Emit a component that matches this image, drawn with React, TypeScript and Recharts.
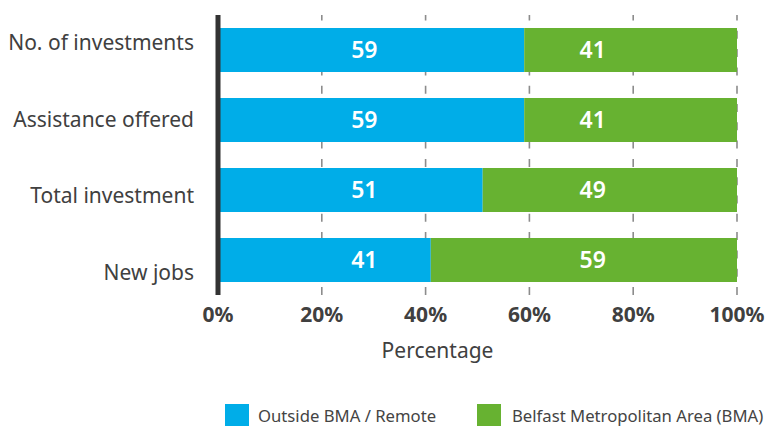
import React from 'react';
import { BarChart, Bar, XAxis, YAxis, CartesianGrid, LabelList } from 'recharts';

const categories = ['No. of investments', 'Assistance offered', 'Total investment', 'New jobs'];
const outsideBMA = [59, 59, 51, 41];
const belfastBMA = [41, 41, 49, 59];
const xTicks = [0, 20, 40, 60, 80, 100];
const seriesNames = ['Outside BMA / Remote', 'Belfast Metropolitan Area (BMA)'];
const seriesColors = ['#00ADE8', '#67B231'];
// data label anchor positions (percent of axis) as seen in the reference
const labelAnchors = [28.2, 72.2];

const data = categories.map((name, i) => ({ name, outside: outsideBMA[i], belfast: belfastBMA[i] }));

const FONT = '"Noto Sans", sans-serif';
const TEXT = '#404040';

const makeValueLabel = (series: number) => (props: any) => {
  const { x, y, width, height, value, index } = props;
  const unit = width / value;
  const zero = series === 0 ? x : x - outsideBMA[index] * unit;
  const cx = zero + labelAnchors[series] * unit;
  return (
    <text
      x={cx}
      y={y + height / 2}
      dy="0.36em"
      textAnchor="middle"
      fill="#ffffff"
      fontFamily={FONT}
      fontSize={23}
      fontWeight={600}
    >
      {value}
    </text>
  );
};

const gridLine = (props: any) => (
  <line
    key={`g-${props.x1}-${props.index}`}
    x1={props.x1}
    y1={props.y1}
    x2={props.x2}
    y2={props.y2}
    stroke="#8c8c8c"
    strokeWidth={1.6}
    strokeDasharray="8 10.3"
    strokeDashoffset={2.5}
  />
);

const pctLabel = (props: any) => {
  const vb = props.viewBox || { x: 218, y: 295, width: 519, height: 131 };
  return (
    <text
      x={vb.x + vb.width * 0.423}
      y={vb.y + 63}
      textAnchor="middle"
      fill={TEXT}
      fontFamily={FONT}
      fontSize={21}
    >
      Percentage
    </text>
  );
};

const legendLefts = [225, 477];
const legendTextGaps = [9, 11];

export default function App() {
  return (
    <div style={{ position: 'absolute', left: 0, top: 0, width: 769, height: 426, background: '#fff', overflow: 'hidden' }}>
      <BarChart
        width={769}
        height={426}
        data={data}
        layout="vertical"
        margin={{ top: 15, right: 32, bottom: 0, left: 0 }}
      >
        <CartesianGrid horizontal={false} vertical={gridLine} yAxisId="bars" />
        <XAxis
          type="number"
          domain={[0, 100]}
          ticks={xTicks}
          tickFormatter={(v: number) => `${v}%`}
          axisLine={false}
          tickLine={false}
          tickSize={0}
          tickMargin={12}
          height={131}
          interval={0}
          tick={{ fill: TEXT, fontSize: 21, fontWeight: 700, fontFamily: FONT }}
          label={pctLabel}
        />
        <YAxis yAxisId="bars" type="category" dataKey="name" hide width={0} />
        <YAxis
          yAxisId="labels"
          type="category"
          dataKey="name"
          width={218}
          padding={{ top: -11, bottom: -16 }}
          axisLine={{ stroke: '#333333', strokeWidth: 5 }}
          tickLine={false}
          tickSize={0}
          tickMargin={24}
          interval={0}
          tick={{ fill: TEXT, fontSize: 21, fontFamily: FONT }}
        />
        <Bar dataKey="outside" name={seriesNames[0]} stackId="a" yAxisId="bars" fill={seriesColors[0]} barSize={44} isAnimationActive={false}>
          <LabelList dataKey="outside" content={makeValueLabel(0)} />
        </Bar>
        <Bar dataKey="belfast" name={seriesNames[1]} stackId="a" yAxisId="bars" fill={seriesColors[1]} barSize={44} isAnimationActive={false}>
          <LabelList dataKey="belfast" content={makeValueLabel(1)} />
        </Bar>
      </BarChart>
      {seriesNames.map((n, i) => (
        <div
          key={n}
          style={{
            position: 'absolute',
            left: legendLefts[i],
            top: 404,
            display: 'flex',
            alignItems: 'center',
            fontFamily: FONT,
            fontSize: 16.7,
            color: '#444',
            whiteSpace: 'nowrap',
          }}
        >
          <div style={{ width: 24, height: 24, background: seriesColors[i], marginRight: legendTextGaps[i] }} />
          <span style={{ lineHeight: '24px' }}>{n}</span>
        </div>
      ))}
    </div>
  );
}
